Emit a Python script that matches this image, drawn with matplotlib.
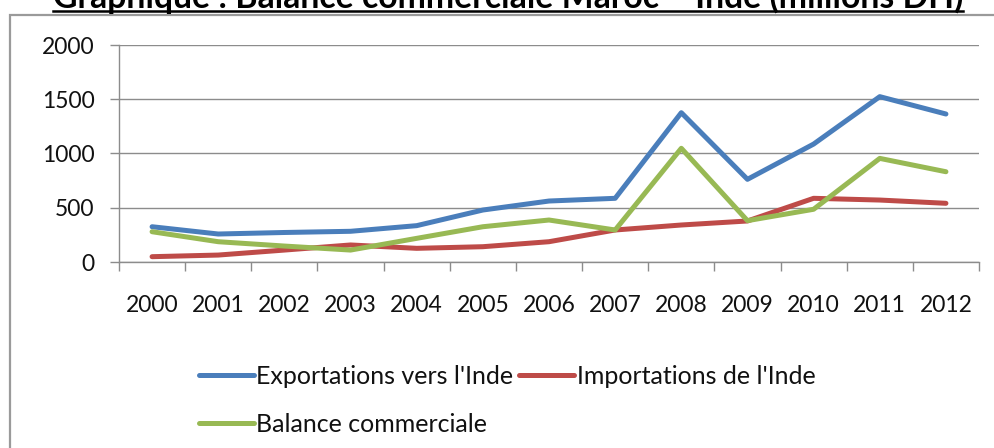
import matplotlib
matplotlib.use("Agg")
import matplotlib.pyplot as plt
from matplotlib.patches import Rectangle
from matplotlib.lines import Line2D

plt.rcParams['font.family'] = ['Lato', 'DejaVu Sans']

years = [str(y) for y in range(2000, 2013)]
exportations = [325, 258, 272, 283, 335, 479, 562, 587, 1376, 762, 1087, 1524, 1364]
importations = [49, 64, 110, 157, 126, 141, 187, 295, 341, 378, 587, 571, 541]
balance = [279, 187, 147, 110, 218, 325, 387, 295, 1048, 381, 486, 955, 832]

W, H = 994, 448
fig = plt.figure(figsize=(W / 100, H / 100), dpi=100)

# chart frame (cut by the image edges on the right and bottom)
fig.patches.append(Rectangle((10 / W, -0.05), 1.2, 1 - 15 / H + 0.05,
                             transform=fig.transFigure, fill=False,
                             edgecolor='#9a9a9a', linewidth=1.6))

ax = fig.add_axes([119 / W, 1 - 262 / H, (979 - 119) / W, (262 - 45) / H])
x = range(len(years))
l_exp, = ax.plot(x, exportations, color='#4a7ebb', lw=3.6, solid_capstyle='round',
                 label="Exportations vers l'Inde")
l_imp, = ax.plot(x, importations, color='#be4b48', lw=3.6, solid_capstyle='round',
                 label="Importations de l'Inde")
l_bal, = ax.plot(x, balance, color='#98b954', lw=3.6, solid_capstyle='round',
                 label="Balance commerciale")

ax.set_xlim(-0.5, len(years) - 0.5)
ax.set_ylim(0, 2000)
ax.set_yticks([0, 500, 1000, 1500, 2000])
ax.set_xticks(list(x))
ax.set_xticklabels(years)
ax.set_xticks([i - 0.5 for i in range(len(years) + 1)], minor=True)
ax.tick_params(axis='x', which='major', length=0, pad=24, labelsize=16.5, colors='#111111')
ax.tick_params(axis='x', which='minor', length=6.5, width=1, color='#8c8c8c', direction='out')
ax.tick_params(axis='y', length=6.5, width=1, color='#8c8c8c', pad=11, labelsize=16.5,
               labelcolor='#111111')
ax.yaxis.grid(True, color='#8c8c8c', lw=1)
ax.set_axisbelow(True)
for s in ['top', 'right']:
    ax.spines[s].set_visible(False)
for s in ['left', 'bottom']:
    ax.spines[s].set_color('#8c8c8c')
    ax.spines[s].set_linewidth(1)

leg = fig.legend(handles=[l_exp, l_bal, l_imp], ncol=2, frameon=False,
                 loc='upper left', bbox_to_anchor=(186 / W, 1 - 352 / H),
                 fontsize=18, handlelength=2.2, handletextpad=0.12,
                 columnspacing=0.2, labelspacing=1.0, borderpad=0)
for t in leg.get_texts():
    t.set_color('#111111')

# title, partly cut by the top edge
title = fig.text(508 / W, 1 - 8 / H, "Graphique : Balance commerciale Maroc – Inde (millions DH)",
                 ha='center', va='baseline', fontsize=20, fontweight='bold')
fig.canvas.draw()
bb = title.get_window_extent()
title.set_fontsize(20 * 910 / bb.width)
fig.canvas.draw()
bb = title.get_window_extent()
fig.lines.append(Line2D([bb.x0 / W, bb.x1 / W], [1 - 11 / H, 1 - 11 / H],
                        transform=fig.transFigure, color='black', lw=1.8))

fig.savefig('out.png', dpi=100)
